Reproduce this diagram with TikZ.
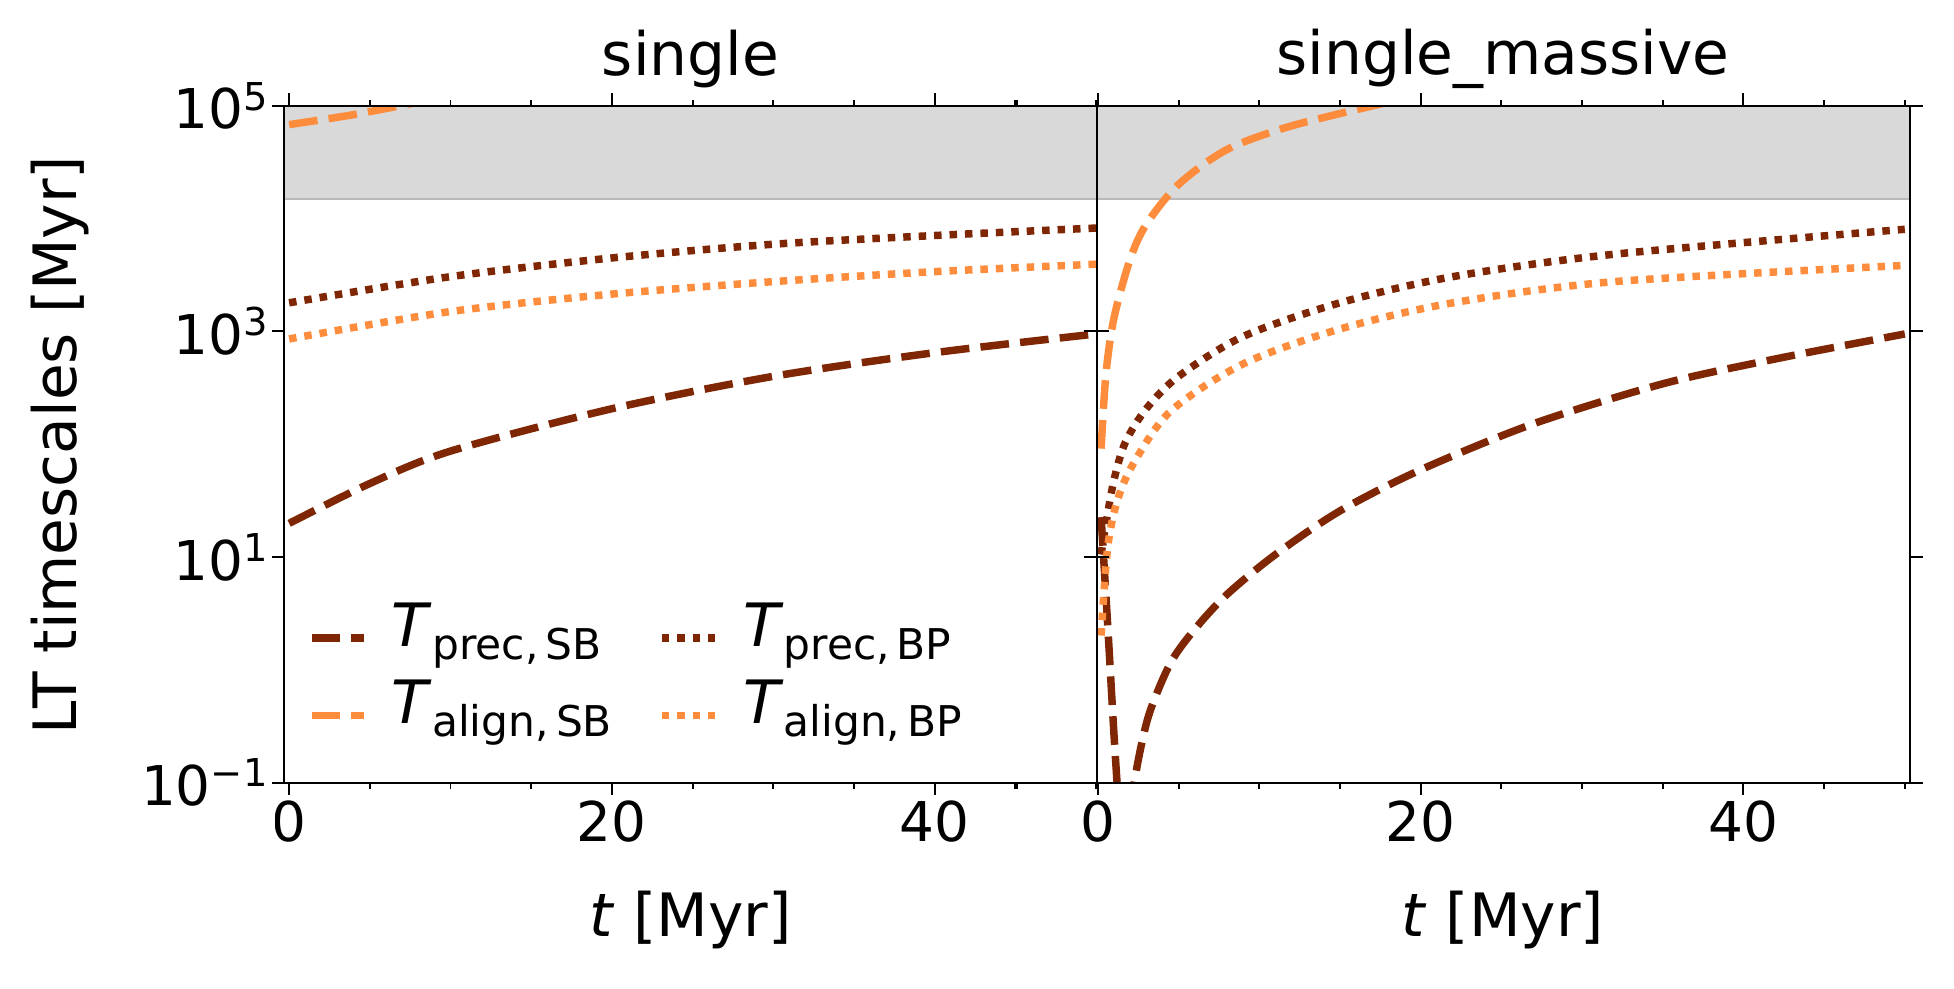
\documentclass[tikz,border=0pt]{standalone}
\usepackage{fontspec}
\setmainfont{DejaVu Sans}
\newcommand\lt[2]{{\fontsize{24}{26}\selectfont\textit{T}}{\fontsize{17}{19}\selectfont\raisebox{-0.55ex}{#1,\,#2}}}
\begin{document}
\begin{tikzpicture}[x=0.5pt,y=0.5pt,
  dk/.style={draw={rgb,255:red,127;green,39;blue,4}},
  og/.style={draw={rgb,255:red,253;green,141;blue,60}},
  dsh/.style={line width=3pt,dash pattern=on 11.5pt off 4.5pt},
  dts/.style={line width=3pt,dash pattern=on 3pt off 3.2pt},
  lbl/.style={font=\fontsize{22}{25}\selectfont,inner sep=1pt},
  ttl/.style={font=\fontsize{24}{28}\selectfont},
  ax/.style={line width=0.8pt},
  tk/.style={line width=0.8pt}]
\useasboundingbox (0,0) rectangle (1568,793);
\foreach \xa/\xb in {228/880,880/1533}{
  \fill[gray!30] (\xa,793-85) rectangle (\xb,793-160);
  \draw[gray!55,line width=0.8pt] (\xa,793-160) -- (\xb,793-160);
}
% curves left
\begin{scope}
\clip (228,793-628) rectangle (880,793-85);
\begin{scope}[shift={(232,793)},x=6.475pt]
\draw[dk,dsh] plot[smooth] coordinates {(0,-420)(5,-388)(10,-362)(20,-328)(30,-302)(40,-283)(50,-268)};
\draw[dk,dts] plot[smooth] coordinates {(0,-243)(10,-222)(20,-207)(30,-196)(40,-189)(50,-183)};
\draw[og,dts] plot[smooth] coordinates {(0,-272)(10,-250)(20,-236)(30,-226)(40,-218)(50,-212)};
\draw[og,dsh] plot[smooth] coordinates {(0,-100)(4,-92)(8,-82)};
\end{scope}
\end{scope}
% curves right
\begin{scope}
\clip (880,793-628) rectangle (1533,793-85);
\begin{scope}[shift={(881,793)},x=6.475pt]
\draw[dk,dsh] plot[smooth] coordinates {(0.2,-415)(0.6,-500)(1.0,-590)(1.3,-650)};
\draw[dk,dsh] plot[smooth] coordinates {(2.0,-650)(2.5,-610)(3.2,-572)(4.5,-532)(6,-505)(8,-477)(11,-445)(15,-410)(20,-377)(27,-340)(35,-308)(42,-288)(50,-268)};
\draw[dk,dts] plot[smooth] coordinates {(0.2,-445)(0.5,-420)(1,-385)(1.7,-355)(3,-328)(5,-302)(9,-270)(15,-243)(22,-222)(32,-204)(50,-184)};
\draw[og,dts] plot[smooth] coordinates {(0.2,-510)(0.6,-440)(1.2,-402)(2.2,-372)(4.5,-330)(9,-292)(15,-264)(22,-243)(32,-226)(50,-213)};
\draw[og,dsh] plot[smooth] coordinates {(0.2,-360)(0.5,-300)(1,-255)(2,-208)(3,-180)(5,-148)(8,-120)(12,-101)(18,-82)};
\end{scope}
\end{scope}
% axes frames
\draw[ax] (228,793-85) rectangle (880,793-628);
\draw[ax] (880,793-85) rectangle (1533,793-628);
% x ticks
\foreach \o/\n in {232/L,881/R}{
  \foreach \t in {0,20,40}{
    \draw[tk] ({\o+12.95*\t},793-628) -- ++(0,-10);
    \draw[tk] ({\o+12.95*\t},793-85) -- ++(0,10);
    \node[lbl,anchor=north] (xl\n\t) at ({\o+12.95*\t},793-640) {\t};}
  \foreach \t in {-5,5,10,15,25,30,35,45,50}{
    \draw[tk] ({\o+12.95*\t},793-628) -- ++(0,-5);
    \draw[tk] ({\o+12.95*\t},793-85) -- ++(0,5);}
}
\fill[white] (0,0) rectangle (221,793-80);
% y ticks
\foreach \e/\yy in {5/85,3/266,1/447,−1/628}{
  \draw[tk] (228,793-\yy) -- ++(-10,0);
  \draw[tk] (870,793-\yy) -- ++(20,0);
  \draw[tk] (1533,793-\yy) -- ++(10,0);
  \node[lbl,anchor=east] (yl\yy) at (218,793-\yy) {10\textsuperscript{\e}};
}
% titles & labels
\node[ttl] (tl) at (554,793-47) {single};
\node[ttl] (tr) at (1206,793-47) {single\_massive};
\node[ttl] (xa) at (554,793-738) {\textit{t} [Myr]};
\node[ttl] (xb) at (1206,793-738) {\textit{t} [Myr]};
\node[ttl,rotate=90] (ya) at (48,793-357) {LT timescales [Myr]};
% legend
\coordinate (a1) at (250,793-512); \coordinate (a2) at (292,793-512);
\draw[dk,dsh] (a1) -- (a2);
\node[anchor=west,inner sep=1pt] (n1) at (312,793-510) {\lt{prec}{SB}};
\coordinate (b1) at (250,793-574); \coordinate (b2) at (292,793-574);
\draw[og,dsh] (b1) -- (b2);
\node[anchor=west,inner sep=1pt] (n2) at (312,793-572) {\lt{align}{SB}};
\coordinate (c1) at (531,793-512); \coordinate (c2) at (574,793-512);
\draw[dk,dts] (c1) -- (c2);
\node[anchor=west,inner sep=1pt] (n3) at (594,793-510) {\lt{prec}{BP}};
\coordinate (d1) at (531,793-574); \coordinate (d2) at (574,793-574);
\draw[og,dts] (d1) -- (d2);
\node[anchor=west,inner sep=1pt] (n4) at (594,793-572) {\lt{align}{BP}};
\end{tikzpicture}
\end{document}
